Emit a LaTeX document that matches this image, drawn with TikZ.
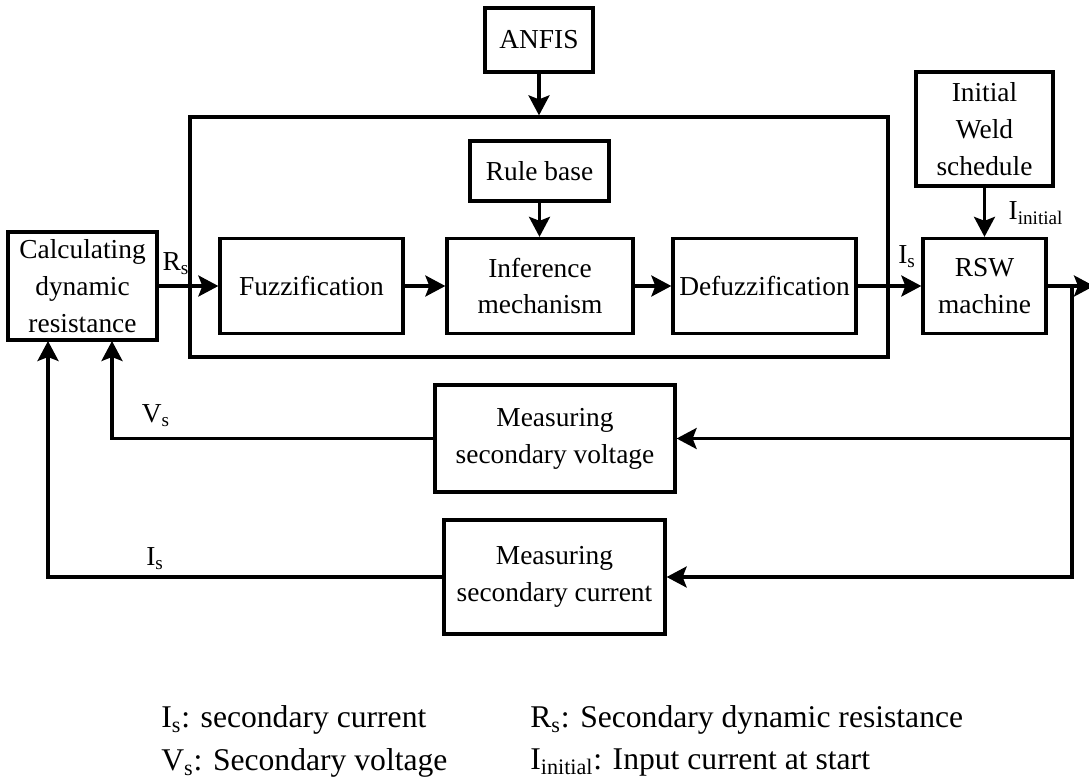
\documentclass[tikz,border=0pt]{standalone}
\usepackage{fontspec}
\setmainfont{Liberation Serif}
\usepackage{tikz}
\usetikzlibrary{arrows.meta,
positioning}

\begin{document}
\begin{tikzpicture}[
				x=0.02cm, y=-0.02cm,
				font=\fontsize{15.6}{21}\selectfont,
				block/.style={
					draw,
					minimum width=24mm,
					minimum height=19mm,
					align=center,
					inner sep=1pt,
					line width=1.9pt
				},
				flow/.style={
					line width=1.9pt,
					-{Stealth[length=4mm,width=4.2mm,inset=0.8mm]}
				},
				sig/.style={inner sep=0pt},
				legend/.style={anchor=west, inner sep=0pt, font=\fontsize{18}{21}\selectfont}
				]
				\useasboundingbox (0,0) rectangle (1089,778);
				
				% fuzzy controller
				\node[block, minimum width=139.6mm, minimum height=48mm] (fis) at (539,237) {};
				\node[block, minimum width=21.6mm, minimum height=12.8mm] (anfis) at (539,40) {ANFIS};
				\node[block, minimum width=27.8mm, minimum height=12mm] (rules) at (539.5,171) {Rule base};
				\node[block, minimum width=36.6mm] (fuzz) at (311.5,286) {Fuzzification};
				\node[block, minimum width=37.2mm] (infer) at (540,286) {Inference\\mechanism};
				\node[block, minimum width=36.6mm] (defuzz) at (764.5,286) {Defuzzification};
				
				% plant and measurements
				\node[block, minimum width=29.8mm, minimum height=21.6mm] (calc) at (82.5,286) {Calculating\\dynamic\\resistance};
				\node[block, minimum width=24.6mm] (rsw) at (984.5,286) {RSW\\machine};
				\node[block, minimum width=27.4mm, minimum height=22.8mm] (init) at (984.5,129) {Initial\\Weld\\schedule};
				\node[block, minimum width=48mm, minimum height=21.4mm] (measv) at (555,438.5) {Measuring\\secondary voltage};
				\node[block, minimum width=44.2mm, minimum height=22.8mm] (measi) at (554.5,577) {Measuring\\secondary current};
				
				\coordinate (tap) at (1072,286);
				\coordinate (out) at (1094,286);
				\coordinate (vin) at (112,341);
				\coordinate (iin) at (48,341);
				
				\draw[flow] (anfis) -- (anfis |- fis.north);
				\draw[flow] (rules) -- (rules |- infer.north);
				\draw[flow] (calc) -- (fuzz);
				\draw[flow] (fuzz) -- (infer);
				\draw[flow] (infer) -- (defuzz);
				\draw[flow] (defuzz) -- (rsw);
				\draw[flow] (init) -- (rsw);
				\draw[flow] (rsw) -- (out);
				\draw[flow] (tap) |- (measv);
				\draw[flow] (tap) |- (measi);
				\draw[flow] (measv) -| (vin);
				\draw[flow] (measi) -| (iin);
				
				\node[sig] (rlab) at (176,264) {R\textsubscript{s}};
				\node[sig] (ilab) at (907,257) {I\textsubscript{s}};
				\node[sig] (initlab) at (1036,213) {I\textsubscript{initial}};
				\node[sig] (vlab) at (156,416) {V\textsubscript{s}};
				\node[sig] (fblab) at (155,559) {I\textsubscript{s}};
				
				% legend
				\node[legend] (leg1) at (161,720) {I\textsubscript{s}: secondary current};
				\node[legend] (leg2) at (161,763) {V\textsubscript{s}: Secondary voltage};
				\node[legend] (leg3) at (530,720) {R\textsubscript{s}: Secondary dynamic resistance};
				\node[legend] (leg4) at (530,763) {I\textsubscript{initial}: Input current at start};
			\end{tikzpicture}
\end{document}
